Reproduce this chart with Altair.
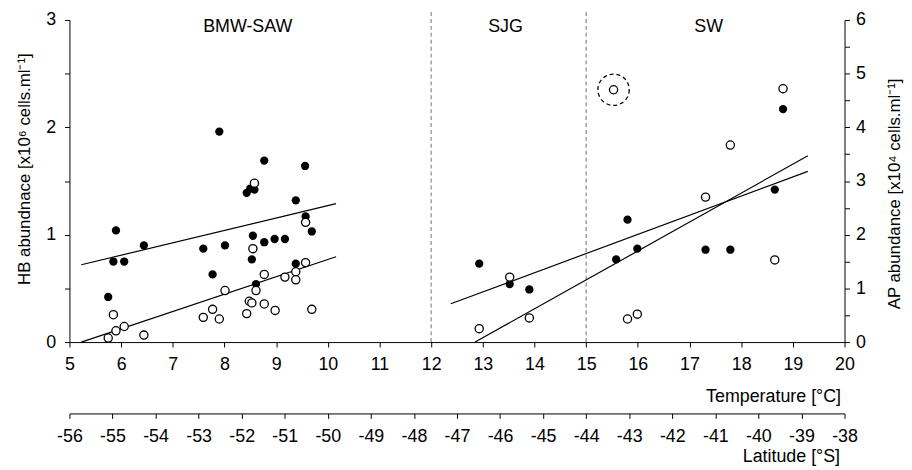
import altair as alt
import pandas as pd

FONT = "Liberation Sans"

# Heterotrophic bacteria (filled, left axis)
hb_temp = [5.75, 5.90, 5.85, 6.06, 6.44, 7.59, 7.77, 7.90, 8.01, 8.43, 8.50, 8.58,
           8.55, 8.53, 8.61, 8.77, 8.77, 8.97, 9.17, 9.38, 9.38, 9.56, 9.57, 9.69,
           12.93, 13.52, 13.90, 15.58, 15.80, 15.99, 17.31, 17.79, 18.65, 18.81]
hb_vals = [0.42, 1.04, 0.75, 0.75, 0.90, 0.87, 0.63, 1.96, 0.90, 1.39, 1.43, 1.42,
           0.99, 0.77, 0.54, 1.69, 0.93, 0.96, 0.96, 1.32, 0.73, 1.64, 1.17, 1.03,
           0.73, 0.54, 0.49, 0.77, 1.14, 0.87, 0.86, 0.86, 1.42, 2.17]

# Autotrophic picoplankton (open, right axis)
ap_temp = [5.75, 5.85, 5.90, 6.06, 6.44, 7.59, 7.77, 7.90, 8.01, 8.43, 8.48, 8.53,
           8.58, 8.55, 8.61, 8.77, 8.77, 8.98, 9.17, 9.38, 9.38, 9.57, 9.57, 9.69,
           12.93, 13.52, 13.90, 15.53, 15.80, 15.99, 17.31, 17.79, 18.65, 18.81]
ap_vals = [0.075, 0.51, 0.21, 0.29, 0.13, 0.46, 0.61, 0.43, 0.96, 0.53, 0.76, 0.73,
           2.96, 1.74, 0.96, 1.26, 0.71, 0.59, 1.21, 1.31, 1.16, 1.48, 2.23, 0.61,
           0.25, 1.21, 0.45, 4.70, 0.43, 0.52, 2.70, 3.67, 1.53, 4.72]

# Regression lines (end points)
hb_line_temp = [5.23, 10.16, 12.38, 19.29]
hb_line_vals = [0.72, 1.29, 0.357, 1.59]
ap_line_temp = [5.23, 10.16, 12.85, 19.29]
ap_line_vals = [0.0, 1.59, 0.0, 3.47]
line_group = ["cold", "cold", "warm", "warm"]

boundary_temps = [12, 15]
region_names = ["BMW-SAW", "SJG", "SW"]
region_temps = [8.45, 13.44, 17.37]
region_y = [2.93, 2.93, 2.93]

outlier_temp = [15.53]
outlier_ap = [4.70]

temp_ticks = list(range(5, 21))
lat_ticks = list(range(-56, -37))
hb_ticks = [i * 0.5 for i in range(7)]
ap_ticks = [i * 0.5 for i in range(13)]

INT_LABEL = "datum.value % 1 == 0 ? '' + datum.value : ''"

xs = alt.Scale(domain=[5, 20], nice=False, zero=False)
hb_scale = alt.Scale(domain=[0, 3], nice=False)
ap_scale = alt.Scale(domain=[0, 6], nice=False)

x_axis = alt.Axis(values=temp_ticks, title="Temperature [°C]", labelFlush=False,
                  labelExpr="'' + datum.value",
                  labelOverlap=False, titleX=778, titleY=55, titleAlign="right",
                  titleBaseline="middle", titleFontSize=18)
hb_axis = alt.Axis(values=hb_ticks, labelExpr=INT_LABEL,
                   title="HB abundnace [x10⁶ cells.ml⁻¹]", titleAngle=270,
                   titleX=-45, titleY=150, titleAlign="center", titleBaseline="middle")
ap_axis = alt.Axis(values=ap_ticks, orient="right", labelExpr=INT_LABEL,
                   title="AP abundance [x10⁴ cells.ml⁻¹]", titleAngle=270,
                   titleX=50, titleY=175, titleAlign="center", titleBaseline="middle",
                   labelPadding=6)

hb_df = pd.DataFrame({"t": hb_temp, "v": hb_vals})
ap_df = pd.DataFrame({"t": ap_temp, "v": ap_vals})
hb_line_df = pd.DataFrame({"t": hb_line_temp, "v": hb_line_vals, "g": line_group})
ap_line_df = pd.DataFrame({"t": ap_line_temp, "v": ap_line_vals, "g": line_group})
bound_df = pd.DataFrame({"t": boundary_temps})
region_df = pd.DataFrame({"t": region_temps, "v": region_y, "name": region_names})
out_df = pd.DataFrame({"t": outlier_temp, "v": outlier_ap})
lat_df = pd.DataFrame({"lat": lat_ticks})

rules = alt.Chart(bound_df).mark_rule(color="#a0a0a0", strokeDash=[4, 3], strokeWidth=1.5).encode(
    x=alt.X("t:Q", scale=xs, axis=x_axis),
    y=alt.value(-8), y2=alt.value(325))

regions = alt.Chart(region_df).mark_text(font=FONT, fontSize=18, color="black",
                                         baseline="middle").encode(
    x=alt.X("t:Q", scale=xs, axis=x_axis),
    y=alt.Y("v:Q", scale=hb_scale, axis=hb_axis),
    text="name:N")

hb_lines = alt.Chart(hb_line_df).mark_line(color="black", strokeWidth=1.2).encode(
    x=alt.X("t:Q", scale=xs, axis=x_axis),
    y=alt.Y("v:Q", scale=hb_scale, axis=hb_axis),
    detail="g:N")

hb_points = alt.Chart(hb_df).mark_point(shape="circle", filled=True, color="black",
                                        size=70, opacity=1).encode(
    x=alt.X("t:Q", scale=xs, axis=x_axis),
    y=alt.Y("v:Q", scale=hb_scale, axis=hb_axis))

hb_layer = alt.layer(rules, regions, hb_lines, hb_points)

ap_lines = alt.Chart(ap_line_df).mark_line(color="black", strokeWidth=1.2).encode(
    x=alt.X("t:Q", scale=xs, axis=None),
    y=alt.Y("v:Q", scale=ap_scale, axis=ap_axis),
    detail="g:N")

ap_points = alt.Chart(ap_df).mark_point(shape="circle", filled=True, fill="white",
                                        stroke="black", strokeWidth=1.3,
                                        size=68, opacity=1).encode(
    x=alt.X("t:Q", scale=xs, axis=None),
    y=alt.Y("v:Q", scale=ap_scale, axis=ap_axis))

outlier = alt.Chart(out_df).mark_point(shape="circle", filled=False, stroke="black",
                                       strokeDash=[4, 3], strokeWidth=1.3,
                                       size=1000, opacity=1).encode(
    x=alt.X("t:Q", scale=xs, axis=None),
    y=alt.Y("v:Q", scale=ap_scale, axis=ap_axis))

ap_layer = alt.layer(ap_lines, ap_points, outlier)

lat_layer = alt.Chart(lat_df).mark_rule(opacity=0).encode(
    x=alt.X("lat:Q", scale=alt.Scale(domain=[-56, -38], nice=False, zero=False),
            axis=alt.Axis(values=lat_ticks, orient="bottom", offset=72,
                          labelExpr="'' + datum.value",
                          title="Latitude [°S]", labelFlush=False, labelOverlap=False,
                          titleX=777, titleY=44, titleAlign="right",
                          titleBaseline="middle", titleFontSize=18)))

chart = alt.layer(hb_layer, ap_layer, lat_layer).resolve_scale(
    x="independent", y="independent"
).properties(
    width=782, height=325,
    padding={"left": 62, "top": 10, "right": 60, "bottom": 125},
    autosize=alt.AutoSizeParams(type="none"),
    background="white",
).configure_view(strokeWidth=0).configure_axis(
    grid=False, domainColor="black", domainWidth=1, tickColor="black", tickWidth=1,
    tickSize=5, labelFont=FONT, labelFontSize=18, labelColor="black", labelPadding=9,
    titleFont=FONT, titleFontSize=17, titleColor="black", titleFontWeight="normal",
)

chart.save("out.html", embed_options={"renderer": "svg", "actions": False})
